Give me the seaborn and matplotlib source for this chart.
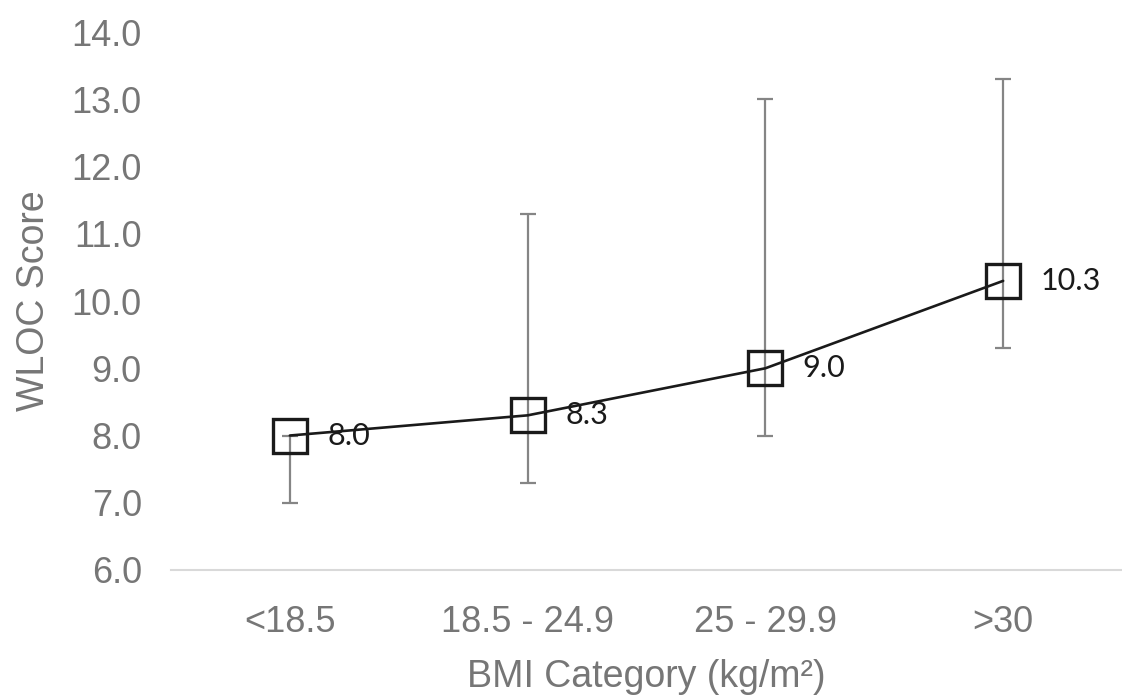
import matplotlib

matplotlib.use('Agg')

import matplotlib.pyplot as plt
import pandas as pd
import seaborn as sns

# values
categories = ['<18.5', '18.5 - 24.9', '25 - 29.9', '>30']
wloc_mean = [8.0, 8.3, 9.0, 10.3]
err_low = [7.0, 7.3, 8.0, 9.3]
err_high = [8.0, 11.3, 13.0, 13.3]
point_labels = ['8.0', '8.3', '9.0', '10.3']
y_ticks = [6.0, 7.0, 8.0, 9.0, 10.0, 11.0, 12.0, 13.0, 14.0]

GREY_TEXT = '#767676'

sns.set_style('white')
plt.rcParams['font.family'] = ['Liberation Sans', 'DejaVu Sans']

df = pd.DataFrame({'bmi': categories, 'score': wloc_mean})

fig = plt.figure(figsize=(11.22, 6.98), dpi=100)
ax = fig.add_axes([0.1524, 0.1834, 0.8476, 0.7706])

# asymmetric error bars, drawn behind the line
lower = [m - lo for m, lo in zip(wloc_mean, err_low)]
upper = [hi - m for m, hi in zip(wloc_mean, err_high)]
ax.errorbar(categories, wloc_mean, yerr=[lower, upper], fmt='none',
            ecolor='#858585', elinewidth=1.6, capsize=5.5, capthick=1.6, zorder=1)

sns.lineplot(data=df, x='bmi', y='score', ax=ax, color='#1a1a1a', linewidth=1.9,
             marker='s', markersize=24.5, markerfacecolor='none',
             markeredgecolor='#1a1a1a', markeredgewidth=2.4, sort=False, zorder=3)

for cat, val, lab in zip(categories, wloc_mean, point_labels):
    ax.annotate(lab, xy=(cat, val), xytext=(27, 0), textcoords='offset points',
                ha='left', va='center', fontsize=22, color='#1a1a1a',
                family=['Lato', 'DejaVu Sans'])

ax.set_ylim(6.0, 14.0)
ax.set_xlim(-0.5, 3.5)
ax.set_yticks(y_ticks)
ax.set_yticklabels(['{:.1f}'.format(t) for t in y_ticks])
ax.tick_params(axis='both', length=0, labelsize=26, colors=GREY_TEXT)
ax.tick_params(axis='y', pad=21)
ax.tick_params(axis='x', pad=25)

ax.set_xlabel('BMI Category (kg/m²)', fontsize=27, color=GREY_TEXT, labelpad=14)
ax.set_ylabel('WLOC Score', fontsize=27, color=GREY_TEXT, labelpad=14)

for side in ['top', 'right', 'left']:
    ax.spines[side].set_visible(False)
ax.spines['bottom'].set_color('#d9d9d9')
ax.spines['bottom'].set_linewidth(1.5)

fig.savefig('out.png', dpi=100)
